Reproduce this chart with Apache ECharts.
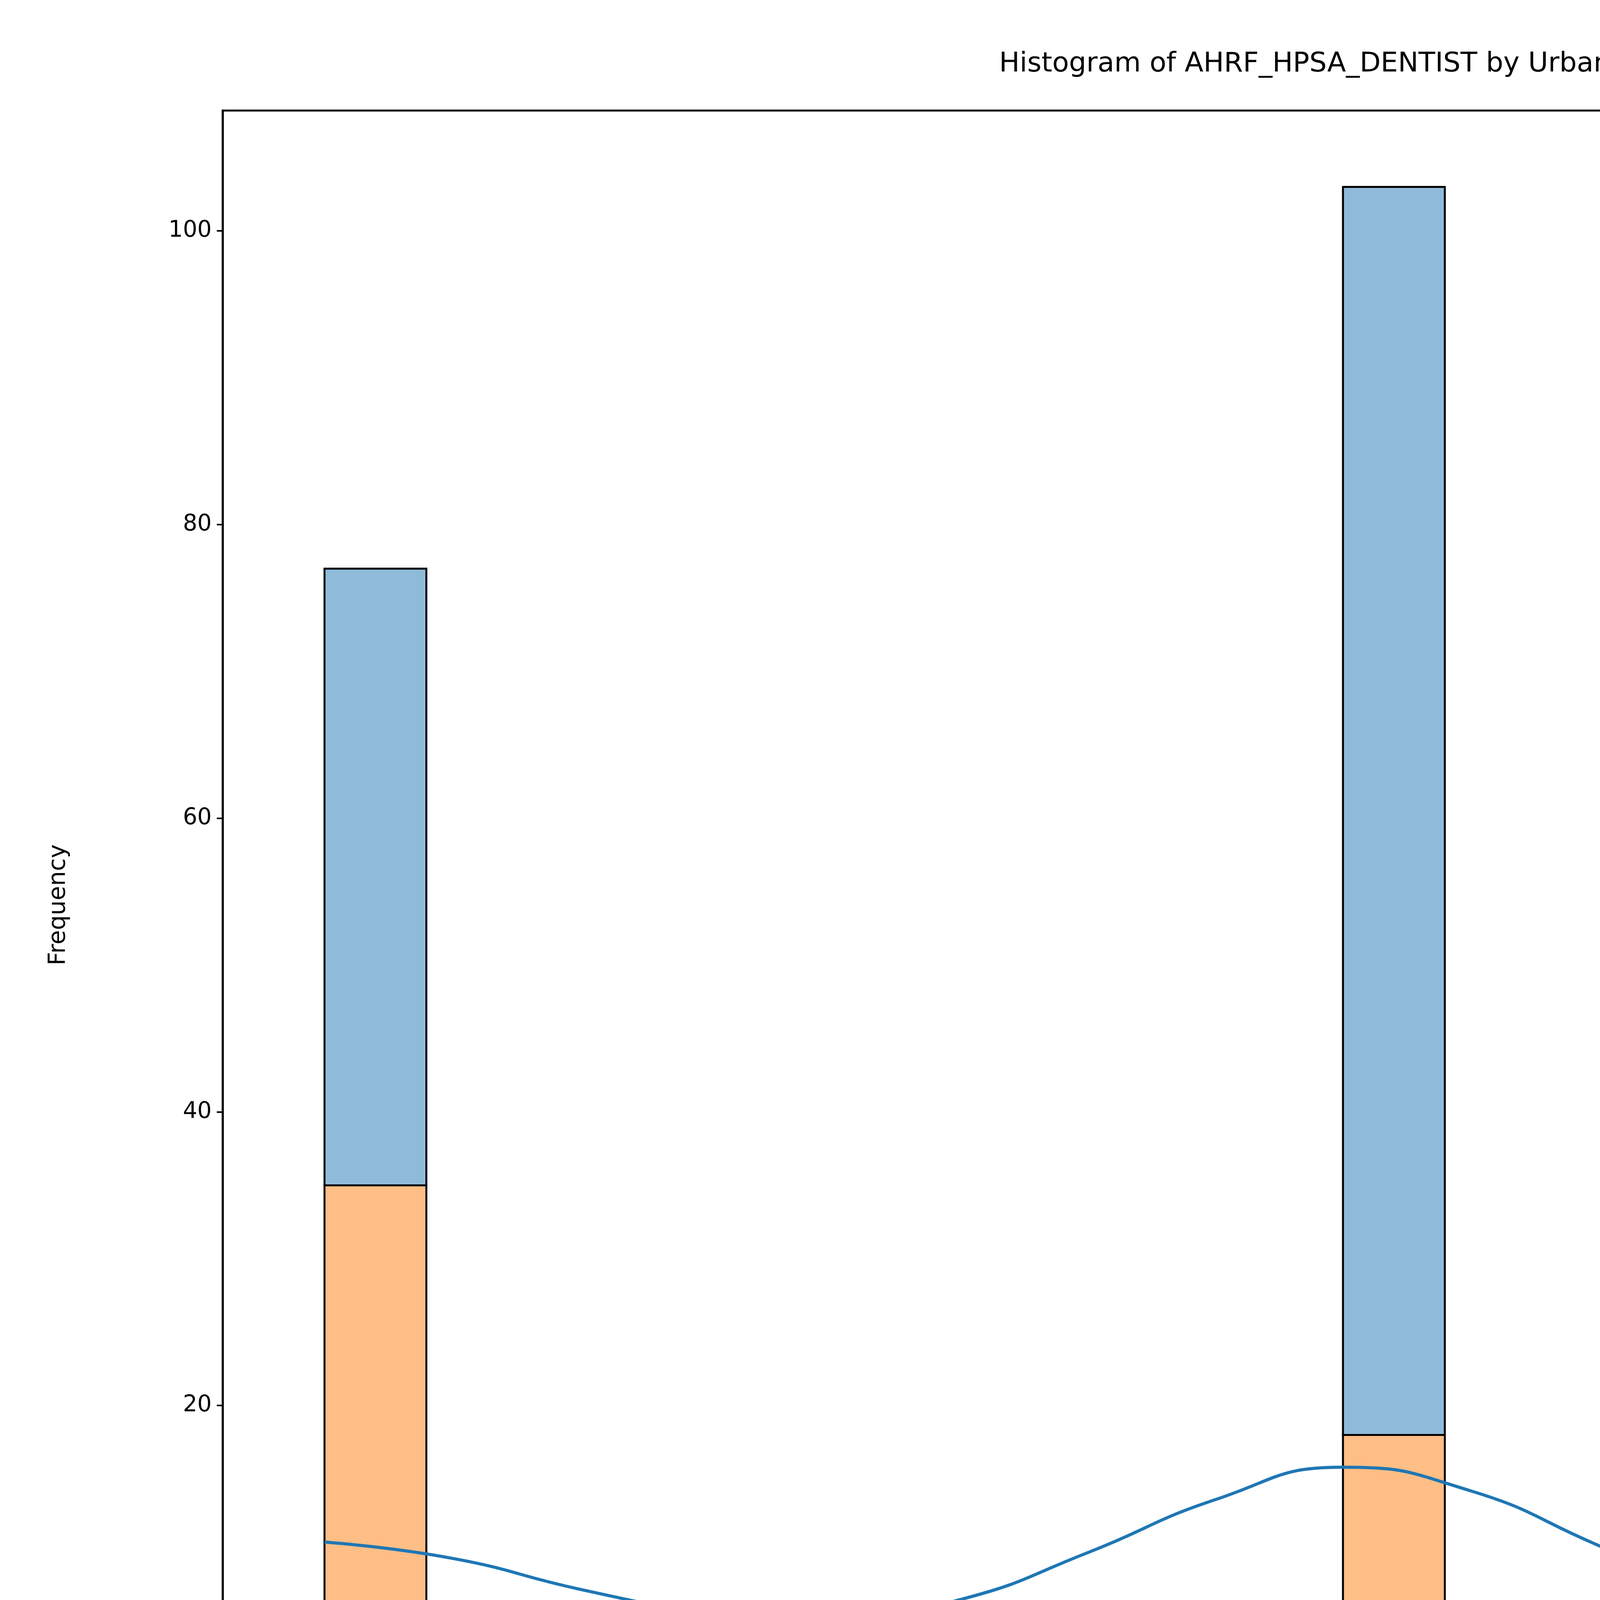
<!DOCTYPE html>
<html>
<head>
<meta charset="utf-8">
<script src="https://cdn.jsdelivr.net/npm/echarts@6/dist/echarts.min.js"></script>
<style>html,body{margin:0;padding:0;background:#fff}#chart{width:6400px;height:4800px}</style>
</head>
<body>
<div id="chart"></div>
<script>
// Histogram bins (bin width 0.1), stacked: orange (1.0) at the bottom, blue (0.0) on top
const binStarts = [0.0, 1.0, 1.9];
const binWidth = 0.1;
const countsRural = [35, 18, 42];   // AHRF_URC_2013 = 1.0
const countsUrban = [42, 85, 32];   // AHRF_URC_2013 = 0.0

// KDE curves
const kdeX = [0, 0.125, 0.25, 0.375, 0.47, 0.625, 0.75, 0.875, 1.0, 1.125, 1.25, 1.375, 1.54, 1.625, 1.75, 1.875, 2.0];
const kdeUrban = [10.7, 9.6, 7.5, 5.8, 4.9, 6.8, 10.0, 13.6, 15.8, 14.2, 10.5, 6.8, 4.9, 5.6, 7.0, 8.8, 9.8];
const kdeRural = [3.9, 3.7, 3.2, 2.7, 2.3, 2.0, 2.0, 2.1, 2.2, 2.1, 2.1, 2.2, 2.6, 3.1, 3.8, 4.4, 4.6];

const xTicks = [0, 0.25, 0.5, 0.75, 1.0, 1.25, 1.5, 1.75, 2.0];
const yTicks = [0, 20, 40, 60, 80, 100];

const ruralBars = binStarts.map((x, i) => [x, x + binWidth, 0, countsRural[i]]);
const urbanBars = binStarts.map((x, i) => [x, x + binWidth, countsRural[i], countsRural[i] + countsUrban[i]]);

function drawBar(params, api) {
    const p0 = api.coord([api.value(0), api.value(3)]);
    const p1 = api.coord([api.value(1), api.value(2)]);
    return {
        type: 'rect',
        shape: { x: p0[0], y: p0[1], width: p1[0] - p0[0], height: p1[1] - p0[1] },
        style: api.style()
    };
}

const font = 'DejaVu Sans';
const chart = echarts.init(document.getElementById('chart'));
chart.setOption({
    animation: false,
    backgroundColor: '#fff',
    title: {
        text: 'Histogram of AHRF_HPSA_DENTIST by Urban/Rural',
        left: 3438, top: 125, textAlign: 'center',
        textStyle: { fontFamily: font, fontSize: 70, fontWeight: 'normal', color: '#000' }
    },
    grid: { left: 570, right: 94, top: 283, bottom: 450, show: true, borderColor: '#000', borderWidth: 5 },
    legend: {
        orient: 'vertical', left: 5498, top: 558,
        itemWidth: 222, itemHeight: 74, itemGap: 94,
        icon: 'rect',
        textStyle: { fontFamily: font, fontSize: 60, color: '#000', padding: [0, 0, 0, 30] },
        data: ['0.0', '1.0']
    },
    graphic: [
        { type: 'rect', shape: { x: 5236, y: 344, width: 1012, height: 517, r: 12 },
          style: { fill: 'rgba(255,255,255,0.8)', stroke: '#ccc', lineWidth: 4 }, z: 0 },
        { type: 'text', x: 5742, y: 435,
          style: { text: 'AHRF_URC_2013', fontFamily: font, fontSize: 60, fill: '#000', align: 'center', verticalAlign: 'middle' } }
    ],
    xAxis: {
        type: 'value', min: -0.1, max: 2.1,
        name: 'AHRF_HPSA_DENTIST', nameLocation: 'middle', nameGap: 270,
        nameTextStyle: { fontFamily: font, fontSize: 60, color: '#000' },
        axisLine: { show: true, onZero: false, lineStyle: { color: '#000', width: 5 } },
        axisTick: { show: true, customValues: xTicks, length: 15, lineStyle: { color: '#000', width: 4 } },
        axisLabel: { customValues: xTicks, formatter: v => v.toFixed(2), fontFamily: font, fontSize: 58, color: '#000', margin: 28 },
        splitLine: { show: false }
    },
    yAxis: {
        type: 'value', min: 0, max: 108.2,
        name: 'Frequency', nameLocation: 'middle', nameGap: 390,
        nameTextStyle: { fontFamily: font, fontSize: 60, color: '#000' },
        axisLine: { show: true, onZero: false, lineStyle: { color: '#000', width: 5 } },
        axisTick: { show: true, customValues: yTicks, length: 15, lineStyle: { color: '#000', width: 4 } },
        axisLabel: { customValues: yTicks, fontFamily: font, fontSize: 58, color: '#000', margin: 28 },
        splitLine: { show: false }
    },
    series: [
        { name: '1.0', type: 'custom', renderItem: drawBar, data: ruralBars,
          encode: { x: [0, 1], y: [2, 3] },
          itemStyle: { color: '#ffbe86', borderColor: '#000', borderWidth: 5 } },
        { name: '0.0', type: 'custom', renderItem: drawBar, data: urbanBars,
          encode: { x: [0, 1], y: [2, 3] },
          itemStyle: { color: '#8fbbd9', borderColor: '#000', borderWidth: 5 } },
        { name: 'kde0', type: 'line', smooth: 0.5, symbol: 'none', z: 5,
          data: kdeX.map((x, i) => [x, kdeUrban[i]]),
          lineStyle: { color: '#1f77b4', width: 8 } },
        { name: 'kde1', type: 'line', smooth: 0.5, symbol: 'none', z: 5,
          data: kdeX.map((x, i) => [x, kdeRural[i]]),
          lineStyle: { color: '#ff7f0e', width: 8 } }
    ]
});
</script>
</body>
</html>
